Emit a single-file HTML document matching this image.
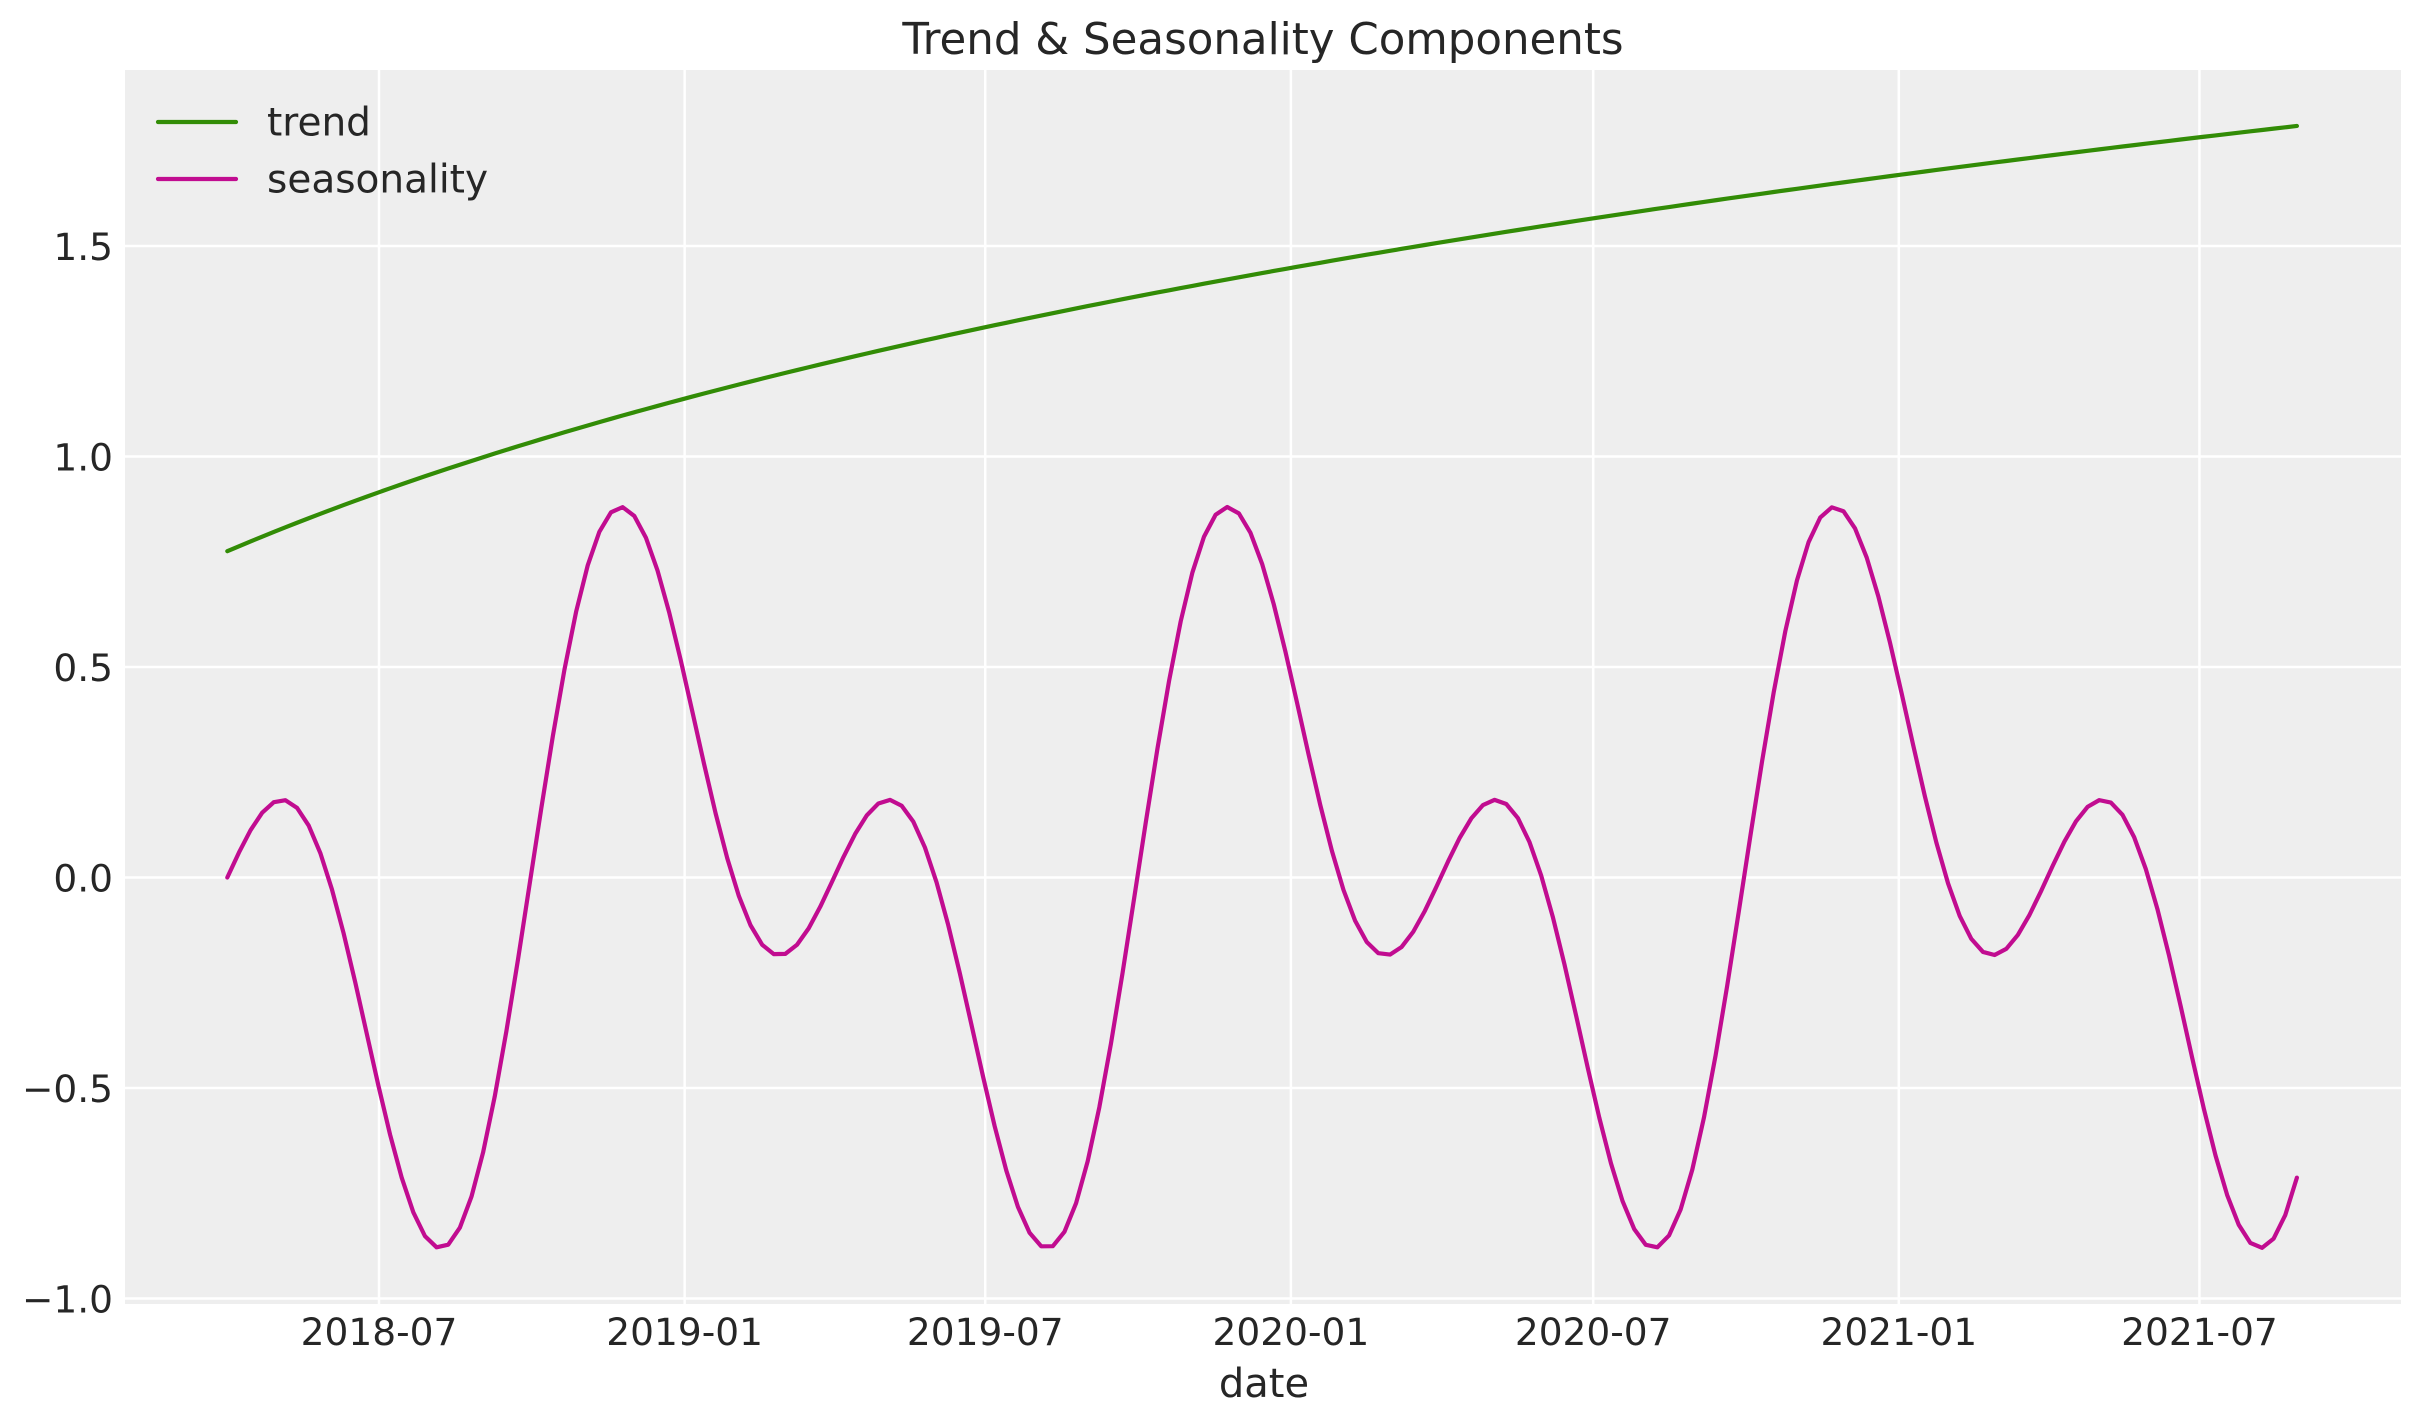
<!DOCTYPE html>
<html><head><meta charset="utf-8">
<style>
html,body{margin:0;padding:0;background:#fff;}
svg{display:block;}
text{font-family:"DejaVu Sans","Liberation Sans",sans-serif;fill:#262626;}
</style></head>
<body>
<svg id="s" width="2423" height="1423" viewBox="0 0 2423 1423" xmlns="http://www.w3.org/2000/svg">
<rect x="125" y="70" width="2276" height="1234" fill="#eeeeee"/>
<g id="grid" stroke="#ffffff" stroke-width="2.5"></g>
<polyline id="trend" fill="none" stroke="#328c06" stroke-width="4.2" stroke-linejoin="round" stroke-linecap="round"/>
<polyline id="seas" fill="none" stroke="#c10c90" stroke-width="4.2" stroke-linejoin="round" stroke-linecap="round"/>
<g id="labels" font-size="37.5"></g>
<text x="1263" y="40" font-size="43.5" text-anchor="middle" dominant-baseline="central">Trend &amp; Seasonality Components</text>
<text x="1264" y="1384" font-size="40" text-anchor="middle" dominant-baseline="central">date</text>
<line x1="158" y1="122" x2="236" y2="122" stroke="#328c06" stroke-width="4.2" stroke-linecap="round"/>
<line x1="158" y1="179" x2="236" y2="179" stroke="#c10c90" stroke-width="4.2" stroke-linecap="round"/>
<text x="267" y="123" font-size="39" dominant-baseline="central">trend</text>
<text x="267" y="180" font-size="39" dominant-baseline="central">seasonality</text>
</svg>
<script>
var NS="http://www.w3.org/2000/svg";
function Y(v){return 877.5-v*421;}
var g=document.getElementById('grid'),L=document.getElementById('labels');
function el(p,t,a,txt){var e=document.createElementNS(NS,t);for(var k in a)e.setAttribute(k,a[k]);if(txt)e.textContent=txt;p.appendChild(e);return e;}
var yt=[[1.5,"1.5"],[1.0,"1.0"],[0.5,"0.5"],[0,"0.0"],[-0.5,"\u22120.5"],[-1.0,"\u22121.0"]];
yt.forEach(function(t){var y=Y(t[0]);el(g,'line',{x1:125,x2:2401,y1:y,y2:y});
 el(L,'text',{x:113,y:y+1,'text-anchor':'end','dominant-baseline':'central'},t[1]);});
var xt=[[0,"2018-07"],[184,"2019-01"],[365,"2019-07"],[549,"2020-01"],[731,"2020-07"],[915,"2021-01"],[1096,"2021-07"]];
xt.forEach(function(t){var x=379+t[0]*1.661;el(g,'line',{x1:x,x2:x,y1:70,y2:1304});
 el(L,'text',{x:x,y:1332,'text-anchor':'middle','dominant-baseline':'central'},t[1]);});
var tp=[],sp=[],w=2*Math.PI/52.1786;
for(var n=0;n<=178;n++){var x=227.3+n*11.627;var th=w*n;
 var s=-0.5*Math.sin(th)+0.5*Math.sin(2*th);
 var t=0.775+0.766*Math.log(1+n/65);
 tp.push(x.toFixed(2)+","+Y(t).toFixed(2));sp.push(x.toFixed(2)+","+Y(s).toFixed(2));}
document.getElementById('trend').setAttribute('points',tp.join(' '));
document.getElementById('seas').setAttribute('points',sp.join(' '));
</script>
</body></html>
